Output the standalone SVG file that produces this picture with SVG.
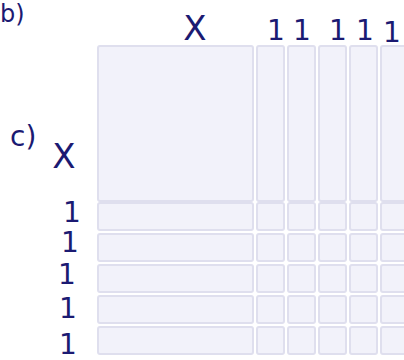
<svg xmlns="http://www.w3.org/2000/svg" width="404" height="360" viewBox="0 0 404 360">
<style>
.cell{fill:#f2f2fa;stroke:#dfdfee;stroke-width:2}
.ink{fill:#1b1a72;font-family:"DejaVu Sans","Liberation Sans",sans-serif}
.one{fill:#1b1a72;font-family:"DejaVu Sans","Liberation Sans",sans-serif;font-size:28px;text-anchor:middle}
</style>
<rect width="404" height="360" fill="#ffffff"/>
<g id="matrix">
<g id="block-XX"><rect class="cell" x="98" y="46" width="155" height="155" rx="2"/></g>
<g id="cols">
<rect class="cell" x="257" y="46" width="27" height="155" rx="2"/>
<rect class="cell" x="288" y="46" width="27" height="155" rx="2"/>
<rect class="cell" x="319" y="46" width="27" height="155" rx="2"/>
<rect class="cell" x="350" y="46" width="27" height="155" rx="2"/>
<rect class="cell" x="381" y="46" width="27" height="155" rx="2"/>
</g>
<g id="rows">
<rect class="cell" x="98" y="203" width="155" height="27" rx="2"/>
<rect class="cell" x="98" y="234" width="155" height="27" rx="2"/>
<rect class="cell" x="98" y="265" width="155" height="27" rx="2"/>
<rect class="cell" x="98" y="296" width="155" height="27" rx="2"/>
<rect class="cell" x="98" y="327" width="155" height="27" rx="2"/>
</g>
<g id="small">
<rect class="cell" x="257" y="203" width="27" height="27" rx="2"/><rect class="cell" x="288" y="203" width="27" height="27" rx="2"/><rect class="cell" x="319" y="203" width="27" height="27" rx="2"/><rect class="cell" x="350" y="203" width="27" height="27" rx="2"/><rect class="cell" x="381" y="203" width="27" height="27" rx="2"/>
<rect class="cell" x="257" y="234" width="27" height="27" rx="2"/><rect class="cell" x="288" y="234" width="27" height="27" rx="2"/><rect class="cell" x="319" y="234" width="27" height="27" rx="2"/><rect class="cell" x="350" y="234" width="27" height="27" rx="2"/><rect class="cell" x="381" y="234" width="27" height="27" rx="2"/>
<rect class="cell" x="257" y="265" width="27" height="27" rx="2"/><rect class="cell" x="288" y="265" width="27" height="27" rx="2"/><rect class="cell" x="319" y="265" width="27" height="27" rx="2"/><rect class="cell" x="350" y="265" width="27" height="27" rx="2"/><rect class="cell" x="381" y="265" width="27" height="27" rx="2"/>
<rect class="cell" x="257" y="296" width="27" height="27" rx="2"/><rect class="cell" x="288" y="296" width="27" height="27" rx="2"/><rect class="cell" x="319" y="296" width="27" height="27" rx="2"/><rect class="cell" x="350" y="296" width="27" height="27" rx="2"/><rect class="cell" x="381" y="296" width="27" height="27" rx="2"/>
<rect class="cell" x="257" y="327" width="27" height="27" rx="2"/><rect class="cell" x="288" y="327" width="27" height="27" rx="2"/><rect class="cell" x="319" y="327" width="27" height="27" rx="2"/><rect class="cell" x="350" y="327" width="27" height="27" rx="2"/><rect class="cell" x="381" y="327" width="27" height="27" rx="2"/>
</g>
</g>
<g id="labels">
<text class="ink" x="0" y="22" font-size="24">b)</text>
<text class="ink" x="195" y="40" font-size="34" text-anchor="middle">X</text>
<text class="ink" x="10" y="146" font-size="28">c)</text>
<text class="ink" x="64" y="168" font-size="34" text-anchor="middle">X</text>
<text class="one" x="276" y="40">1</text>
<text class="one" x="302" y="40">1</text>
<text class="one" x="338" y="40">1</text>
<text class="one" x="365" y="40">1</text>
<text class="one" x="392" y="42">1</text>
<text class="one" x="72" y="222">1</text>
<text class="one" x="70" y="252">1</text>
<text class="one" x="67" y="284">1</text>
<text class="one" x="68" y="318">1</text>
<text class="one" x="68" y="354">1</text>
</g>
</svg>
